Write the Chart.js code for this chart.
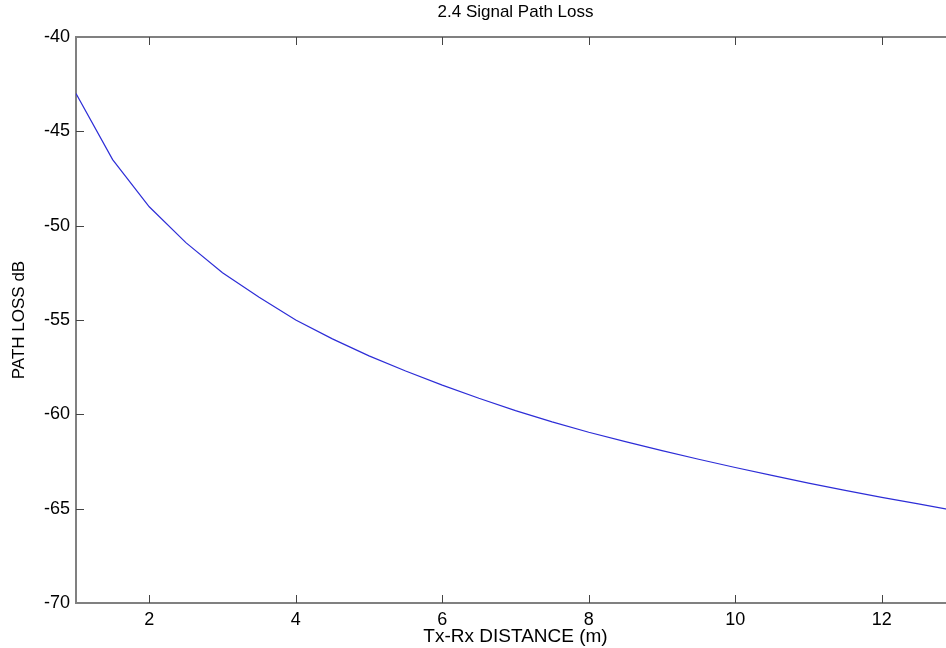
<!DOCTYPE html>
<html>
<head>
<meta charset="utf-8">
<script src="https://cdn.jsdelivr.net/npm/chart.js@4/dist/chart.umd.min.js"></script>
<style>
    html, body { margin: 0; padding: 0; background: #fff; overflow: hidden; }
</style>
</head>
<body>
<canvas id="lossChart" width="962" height="648"></canvas>
<script>
// Datos
const distancias = [1, 1.5, 2, 2.5, 3, 3.5, 4, 4.5, 5, 5.5, 6, 6.5, 7, 7.5, 8, 8.5, 9, 9.5, 10, 10.5, 11, 11.5, 12, 12.5, 13];
const perdidas = [-43.0, -46.5, -49.0, -50.9, -52.5, -53.8, -55.0, -56.0, -56.9, -57.7, -58.45, -59.15, -59.8,
                  -60.4, -60.95, -61.45, -61.92, -62.38, -62.82, -63.24, -63.65, -64.03, -64.4, -64.75, -65.1];
const xTicks = [2, 4, 6, 8, 10, 12];
const yTicks = [-70, -65, -60, -55, -50, -45, -40];

Chart.defaults.font.family = "'Liberation Sans', Arial, sans-serif";
Chart.defaults.color = '#000';

// Marcas de los ejes hacia dentro y borde superior/derecho (estilo MATLAB)
const marcoPlugin = {
    id: 'marco',
    afterDraw(chart) {
        const ctx = chart.ctx;
        const area = chart.chartArea;
        const sx = chart.scales.x;
        const sy = chart.scales.y;
        ctx.save();
        ctx.strokeStyle = '#808080';
        ctx.lineWidth = 2;
        ctx.beginPath();
        ctx.moveTo(area.left, area.top);
        ctx.lineTo(area.right, area.top);
        ctx.lineTo(area.right, area.bottom);
        ctx.stroke();

        ctx.strokeStyle = '#444';
        ctx.lineWidth = 1;
        ctx.beginPath();
        xTicks.forEach(v => {
            const px = Math.round(sx.getPixelForValue(v)) + 0.5;
            ctx.moveTo(px, area.bottom);
            ctx.lineTo(px, area.bottom - 8);
            ctx.moveTo(px, area.top);
            ctx.lineTo(px, area.top + 8);
        });
        yTicks.slice(1, -1).forEach(v => {
            const py = Math.round(sy.getPixelForValue(v)) + 0.5;
            ctx.moveTo(area.left, py);
            ctx.lineTo(area.left + 8, py);
            ctx.moveTo(area.right, py);
            ctx.lineTo(area.right - 8, py);
        });
        ctx.stroke();
        ctx.restore();
    }
};

const lossData = {
    datasets: [{
        label: 'Path loss',
        data: distancias.map((d, i) => ({ x: d, y: perdidas[i] })),
        borderColor: 'rgb(45, 45, 215)',
        borderWidth: 1.2,
        pointRadius: 0,
        tension: 0,
        fill: false
    }]
};

const lossOptions = {
    responsive: false,
    animation: false,
    layout: {
        padding: { left: 0, right: 7, top: 0, bottom: 0 }
    },
    plugins: {
        legend: { display: false },
        tooltip: { enabled: false },
        title: {
            display: true,
            text: '2.4 Signal Path Loss',
            fullSize: false,
            font: { size: 17, weight: 'normal' },
            padding: { top: 2, bottom: 14.6 }
        }
    },
    scales: {
        x: {
            type: 'linear',
            min: 1,
            max: 13,
            afterBuildTicks: scale => {
                scale.ticks = xTicks.map(v => ({ value: v }));
            },
            afterFit: scale => { scale.height = 45; },
            grid: { display: false, drawTicks: false },
            border: { display: true, color: '#808080', width: 2 },
            ticks: { padding: 6, font: { size: 18 }, maxRotation: 0 },
            title: {
                display: true,
                text: 'Tx-Rx DISTANCE (m)',
                font: { size: 19 },
                padding: { top: 0, bottom: 0 }
            }
        },
        y: {
            type: 'linear',
            min: -70,
            max: -40,
            afterBuildTicks: scale => {
                scale.ticks = yTicks.map(v => ({ value: v }));
            },
            afterFit: scale => { scale.width = 76; },
            grid: { display: false, drawTicks: false },
            border: { display: true, color: '#808080', width: 2 },
            ticks: { padding: 6, font: { size: 18 } },
            title: {
                display: true,
                text: 'PATH LOSS dB',
                font: { size: 17 },
                padding: { top: 9, bottom: 0 }
            }
        }
    }
};

new Chart(document.getElementById('lossChart').getContext('2d'), {
    type: 'line',
    data: lossData,
    options: lossOptions,
    plugins: [marcoPlugin]
});
</script>
</body>
</html>
